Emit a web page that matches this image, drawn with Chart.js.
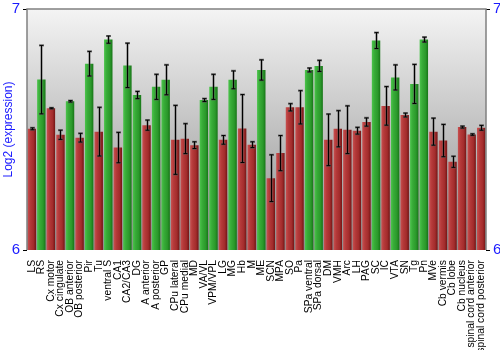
<!DOCTYPE html>
<html>
<head>
<meta charset="utf-8">
<script src="https://cdn.jsdelivr.net/npm/chart.js@4.4.0/dist/chart.umd.min.js"></script>
<style>
  html,body{margin:0;padding:0;background:#fff}
  #wrap{width:500px;height:350px}
</style>
</head>
<body>
<div id="wrap"><canvas id="ch"></canvas></div>
<script>
// brain regions, log2 expression means and their spread
const regions=['LS','RS','Cx motor','Cx cingulate','OB anterior','OB posterior','Pir','Tu','ventral S','CA1','CA2/CA3','DG','A anterior','A posterior','GP','CPu lateral','CPu medial','MD','VA/VL','VPM/VPL','LG','MG','Hb','M','ME','SCN','MPA','SO','Pa','SPa ventral','SPa dorsal','DM','VMH','Arc','LH','PAG','SC','IC','VTA','SN','Tg','Pn','MVe','Cb vermis','Cb lobe','Cb nucleus','spinal cord anterior','spinal cord posterior'];
const expr=[6.503,6.707,6.588,6.478,6.617,6.466,6.773,6.491,6.873,6.425,6.766,6.643,6.518,6.677,6.706,6.457,6.462,6.435,6.622,6.677,6.457,6.706,6.504,6.437,6.747,6.298,6.402,6.592,6.592,6.747,6.764,6.457,6.503,6.499,6.495,6.531,6.869,6.598,6.716,6.560,6.689,6.873,6.491,6.454,6.366,6.510,6.479,6.507];
const err=[0.004,0.142,0.002,0.019,0.003,0.018,0.051,0.101,0.015,0.063,0.092,0.015,0.021,0.052,0.062,0.143,0.062,0.014,0.006,0.052,0.018,0.037,0.141,0.012,0.042,0.097,0.073,0.015,0.069,0.008,0.023,0.107,0.075,0.099,0.014,0.017,0.033,0.080,0.052,0.008,0.081,0.010,0.056,0.067,0.023,0.004,0.003,0.010];
// 1 = high group (green), 0 = red
const high=[0,1,0,0,1,0,1,0,1,0,1,1,0,1,1,0,0,0,1,1,0,1,0,0,1,0,0,0,0,1,1,0,0,0,0,0,1,0,1,0,1,1,0,0,0,0,0,0];
const yTicks=[6,7];

const BLUE='#1a1aff';
const FONT='Liberation Sans, Arial, sans-serif';
const shades={
  red:['#c85050','#b53a3a','#a32c2c','#731515'],
  green:['#4cc44c','#38ac38','#2b992b','#177517']
};

function barFill(c){
  const chart=c.chart, x=chart.scales.x;
  if(!chart.chartArea||!x) return high[c.dataIndex]?'#33aa33':'#b33';
  const cx=x.getPixelForValue(c.dataIndex), half=x.width/regions.length*0.88/2;
  const g=chart.ctx.createLinearGradient(cx-half,0,cx+half,0);
  const s=high[c.dataIndex]?shades.green:shades.red;
  g.addColorStop(0,s[0]);g.addColorStop(0.3,s[1]);g.addColorStop(0.7,s[2]);g.addColorStop(1,s[3]);
  return g;
}

// gray wash behind the bars plus the frame on top/left/right
const panel={
  id:'panel',
  beforeDatasetsDraw(chart){
    const {ctx,chartArea:a}=chart;
    const g=ctx.createLinearGradient(0,a.top,0,a.bottom);
    g.addColorStop(0,'#f4f4f4');g.addColorStop(1,'#8e8e8e');
    ctx.save();ctx.fillStyle=g;ctx.fillRect(a.left,a.top,a.right-a.left,a.bottom-a.top);ctx.restore();
  },
  afterDraw(chart){
    const {ctx,chartArea:a}=chart;
    ctx.save();ctx.strokeStyle='#808080';ctx.lineWidth=1.5;
    ctx.beginPath();ctx.moveTo(a.left,a.bottom);ctx.lineTo(a.left,a.top);ctx.lineTo(a.right,a.top);ctx.lineTo(a.right,a.bottom);ctx.stroke();
    ctx.restore();
  }
};

// mean ± spread whiskers
const whiskers={
  id:'whiskers',
  afterDatasetsDraw(chart){
    const {ctx}=chart, y=chart.scales.y, meta=chart.getDatasetMeta(0);
    ctx.save();
    meta.data.forEach((bar,i)=>{
      const x=Math.round(bar.x)+0.5, t=y.getPixelForValue(expr[i]+err[i]), b=y.getPixelForValue(expr[i]-err[i]);
      ctx.strokeStyle='rgba(90,90,90,0.7)';ctx.lineWidth=2.2;
      ctx.beginPath();ctx.moveTo(x,t);ctx.lineTo(x,b);ctx.moveTo(x-2.5,t);ctx.lineTo(x+2.5,t);ctx.moveTo(x-2.5,b);ctx.lineTo(x+2.5,b);ctx.stroke();
      ctx.strokeStyle='#000';ctx.lineWidth=1;
      ctx.beginPath();ctx.moveTo(x,t);ctx.lineTo(x,b);ctx.moveTo(x-2,t);ctx.lineTo(x+2,t);ctx.moveTo(x-2,b);ctx.lineTo(x+2,b);ctx.stroke();
    });
    ctx.restore();
  }
};

const yTickCfg={
  color:BLUE,font:{family:FONT,size:15},padding:3,
  callback:v=>yTicks.includes(v)?String(v):''
};

// fixed side widths, and keep the top of the panel near the canvas edge
function sideFit(w){
  return s=>{s.width=w;s.paddingTop=9;s.paddingBottom=0;};
}

new Chart(document.getElementById('ch'),{
  type:'bar',
  data:{labels:regions,datasets:[{data:expr,backgroundColor:barFill,borderWidth:0,barPercentage:0.88,categoryPercentage:1}]},
  options:{
    responsive:true,maintainAspectRatio:false,animation:false,
    layout:{padding:0},
    plugins:{legend:{display:false},tooltip:{enabled:false}},
    scales:{
      x:{
        grid:{display:false},border:{display:false},
        ticks:{autoSkip:false,maxRotation:90,minRotation:90,color:'#000',padding:2,font:{family:FONT,size:10.3}},
        afterFit(s){s.height=100;}
      },
      y:{
        min:6,max:7,position:'left',
        afterBuildTicks(s){s.ticks=yTicks.map(v=>({value:v}));},
        grid:{drawOnChartArea:false,drawTicks:true,tickLength:4,color:'#000'},
        border:{display:false},
        ticks:yTickCfg,
        title:{display:true,text:'Log2 (expression)',color:BLUE,padding:{top:1,bottom:0},font:{family:FONT,size:12}},
        afterFit:sideFit(27)
      },
      y2:{
        min:6,max:7,position:'right',
        afterBuildTicks(s){s.ticks=yTicks.map(v=>({value:v}));},
        grid:{drawOnChartArea:false,drawTicks:true,tickLength:4,color:'#000'},
        border:{display:false},
        ticks:yTickCfg,
        afterFit:sideFit(14)
      }
    }
  },
  plugins:[panel,whiskers]
});
</script>
</body>
</html>
